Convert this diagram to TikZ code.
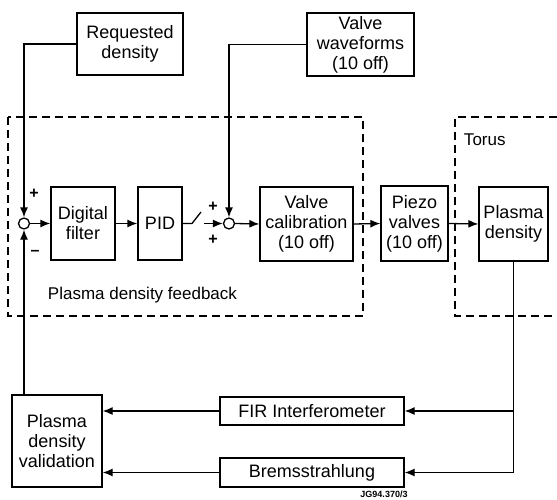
\documentclass[tikz,border=0pt]{standalone}
\usepackage{fontspec}
\setmainfont{Liberation Sans}
\usetikzlibrary{arrows.meta}

\begin{document}
\begin{tikzpicture}[x=1pt, y=-1pt, line width=1.3pt,
        blk/.style={draw, align=center, inner sep=0pt,
            font=\fontsize{18}{20}\selectfont},
        sumpt/.style={draw, circle, minimum size=11pt, inner sep=0pt},
        sign/.style={font=\fontsize{16}{16}\selectfont\bfseries},
        region/.style={dash pattern=on 8pt off 5pt, line width=1.3pt},
        >={Latex[length=10pt,width=8pt]}]
        \useasboundingbox (0,0) rectangle (557,500);

        % dashed regions
        \draw[region] (8,117) rectangle (363,316);
        \draw[region] (557,117) -- (455,117) -- (455,316) -- (557,316);
        \node[anchor=west, font=\fontsize{17}{17}\selectfont] (fblabel) at (44,295) {Plasma density feedback};
        \node[anchor=west, font=\fontsize{17}{17}\selectfont] (toruslabel) at (460,140) {Torus};

        % blocks
        \node[blk, minimum width=106pt, minimum height=62pt] (reqd) at (130,44) {Requested\\density};
        \node[blk, minimum width=107pt, minimum height=63pt] (valvewf) at (360.5,44.5) {Valve\\waveforms\\(10 off)};
        \node[sumpt] (sumA) at (24,223.5) {};
        \node[blk, minimum width=64pt, minimum height=73pt] (filter) at (83,223.5) {Digital\\filter};
        \node[blk, minimum width=44pt, minimum height=73pt] (pid) at (160,223.5) {PID};
        \node[sumpt] (sumB) at (229,223.5) {};
        \node[blk, minimum width=93pt, minimum height=74pt] (calib) at (306.5,224) {Valve\\calibration\\(10 off)};
        \node[blk, minimum width=67pt, minimum height=75pt] (piezo) at (414.5,223.5) {Piezo\\valves\\(10 off)};
        \node[blk, minimum width=69pt, minimum height=74pt] (plasma) at (513.5,224) {Plasma\\density};
        \node[blk, minimum width=90pt, minimum height=92pt] (valid) at (57,441) {Plasma\\density\\validation};
        \node[blk, minimum width=184pt, minimum height=28pt] (fir) at (312,411) {FIR Interferometer};
        \node[blk, minimum width=184pt, minimum height=29pt] (brems) at (312,472.5) {Bremsstrahlung};
        \node[font=\fontsize{9}{9}\selectfont\bfseries] (ref) at (384,494) {JG94.370/3};

        % signs
        \node[sign] (pA) at (34,194) {+};
        \node[sign] (mA) at (35,253) {–};
        \node[sign] (pB1) at (213,207) {+};
        \node[sign] (pB2) at (213,240) {+};

        % switch
        \coordinate (swa) at (192,223.5);
        \coordinate (swb) at (201,212);
        \coordinate (swc) at (204,223.5);

        % forward path
        \draw[->] (reqd.west) -| (sumA.north);
        \draw[->] (valvewf.west) -| (sumB.north);
        \draw[->] (sumA.east) -- (filter.west);
        \draw[->] (filter.east) -- (pid.west);
        \draw (pid.east) -- (swa) -- (swb);
        \draw[->] (swc) -- (sumB.west);
        \draw[->] (sumB.east) -- (calib.west);
        \draw[->] (calib.east) -- (piezo.west);
        \draw[->] (piezo.east) -- (plasma.west);

        % measurement loop
        \draw (plasma.south) -- (plasma.south |- brems.east);
        \draw[->] (plasma.south |- fir.east) -- (fir.east);
        \draw[->] (plasma.south |- brems.east) -- (brems.east);
        \draw[->] (fir.west) -- (fir.west -| valid.east);
        \draw[->] (brems.west) -- (brems.west -| valid.east);
        \draw[->] (valid.north -| sumA) -- (sumA.south);
    \end{tikzpicture}
\end{document}
